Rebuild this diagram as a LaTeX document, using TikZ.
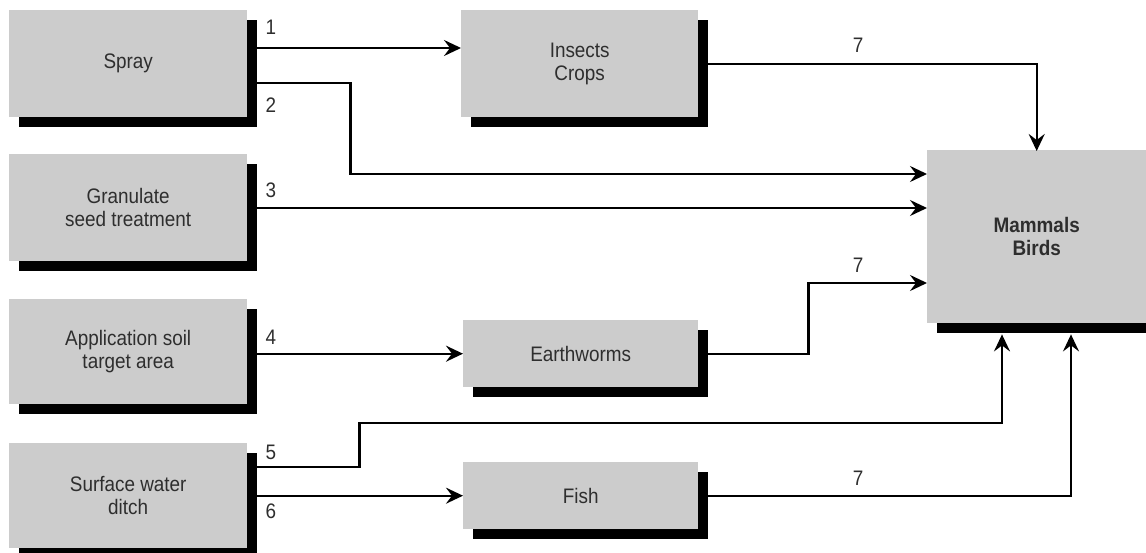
\documentclass[tikz,border=0pt]{standalone}
\usepackage{fontspec}
\setmainfont{Liberation Sans}[FakeStretch=0.9]
\usetikzlibrary{arrows.meta,shadows}
\definecolor{boxgray}{HTML}{CCCCCC}
\definecolor{txt}{HTML}{2E2E2E}
\begin{document}
\begin{tikzpicture}[x=1pt,y=-1pt,
  box/.style={fill=boxgray, draw=none, inner sep=0pt, anchor=north west,
    text=txt, align=center, font=\fontsize{21}{23}\selectfont,
    general shadow={fill=black, shadow xshift=10pt, shadow yshift=-10pt}},
  arr/.style={line width=2.4pt, -{Stealth[length=17pt,width=16pt,inset=6pt]}},
  thin arr/.style={line width=2pt, -{Stealth[length=17pt,width=16pt,inset=6pt]}},
  lbl/.style={text=txt, font=\fontsize{21}{23}\selectfont, inner sep=0pt}]
\useasboundingbox (0,0) rectangle (1146,553);
% boxes
\node[box, minimum width=238pt, minimum height=107pt] (spray) at (9,10) {Spray};
\node[box, minimum width=238pt, minimum height=107pt] (gran) at (9,154) {Granulate\\seed treatment};
\node[box, minimum width=238pt, minimum height=105pt] (appl) at (9,299) {Application soil\\target area};
\node[box, minimum width=238pt, minimum height=105pt] (surf) at (9,443) {Surface water\\ditch};
\node[box, minimum width=237pt, minimum height=107pt] (insects) at (461,10) {Insects\\Crops};
\node[box, minimum width=235pt, minimum height=67pt] (worms) at (463,320) {Earthworms};
\node[box, minimum width=235pt, minimum height=67pt] (fish) at (463,462) {Fish};
\node[box, minimum width=219pt, minimum height=173pt, font=\bfseries\fontsize{21}{23}\selectfont] (mam) at (927,150) {Mammals\\Birds};
% connector anchors
\coordinate (s1) at ([shift={(10,38)}]spray.north east);
\coordinate (s2) at ([shift={(10,73)}]spray.north east);
\coordinate (s3) at ([shift={(10,54)}]gran.north east);
\coordinate (s5) at ([shift={(10,24)}]surf.north east);
\coordinate (m2) at ([shift={(0,24)}]mam.north west);
\coordinate (m3) at ([shift={(0,58)}]mam.north west);
\coordinate (m7) at ([shift={(0,133)}]mam.north west);
\coordinate (mb5) at ([shift={(75,11)}]mam.south west);
\coordinate (mb7) at ([shift={(144,11)}]mam.south west);
% connectors
\draw[arr] (s1) -- (s1 -| insects.west);
\draw[arr] (s2) -- ++(93,0) |- (m2);
\draw[thin arr] (s3) -- (s3 -| m3);
\draw[arr] ([xshift=10pt]appl.east |- worms.west) -- (worms.west);
\draw[arr] (s5) -- ++(102,0) -- ++(0,-44) -| (mb5);
\draw[thin arr] ([xshift=10pt]surf.east |- fish.west) -- (fish.west);
\draw[thin arr] (insects.east) -| ([yshift=-1pt]mam.north);
\draw[arr] ([xshift=10pt]worms.east) -- ++(100,0) |- (m7);
\draw[thin arr] ([xshift=10pt]fish.east) -| (mb7);
% labels
\node[lbl] (l1) at (271,27) {1};
\node[lbl] (l2) at (271,105) {2};
\node[lbl] (l3) at (271,190) {3};
\node[lbl] (l4) at (271,337) {4};
\node[lbl] (l5) at (271,452) {5};
\node[lbl] (l6) at (271,511) {6};
\node[lbl] (l7a) at (858,45) {7};
\node[lbl] (l7b) at (858,265) {7};
\node[lbl] (l7c) at (858,478) {7};
\end{tikzpicture}
\end{document}
